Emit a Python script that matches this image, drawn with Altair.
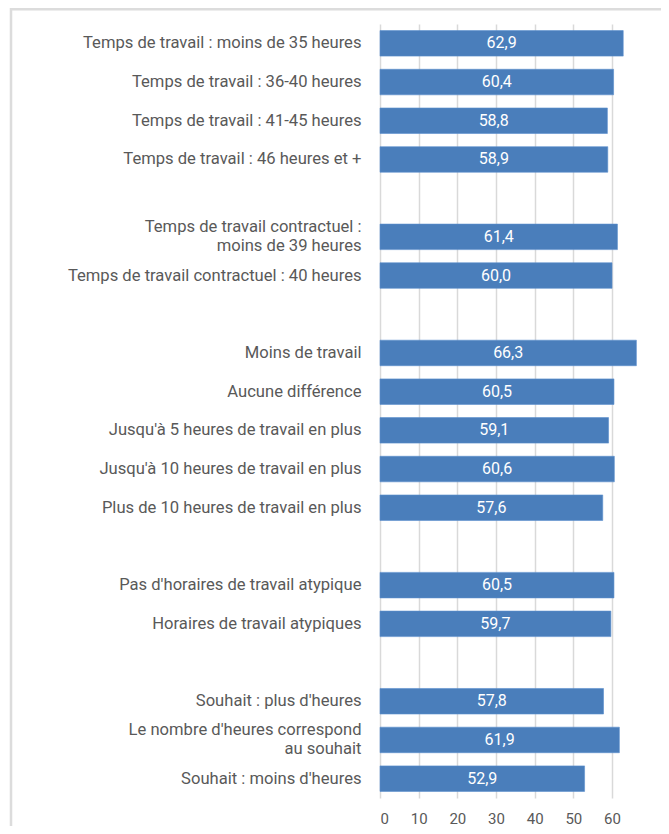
import altair as alt
import pandas as pd

# Row order (top to bottom); blank keys are the gaps between groups
rows = [
    "Temps de travail : moins de 35 heures",
    "Temps de travail : 36-40 heures",
    "Temps de travail : 41-45 heures",
    "Temps de travail : 46 heures et +",
    " ",
    "Temps de travail contractuel :\nmoins de 39 heures",
    "Temps de travail contractuel : 40 heures",
    "  ",
    "Moins de travail",
    "Aucune différence",
    "Jusqu'à 5 heures de travail en plus",
    "Jusqu'à 10 heures de travail en plus",
    "Plus de 10 heures de travail en plus",
    "   ",
    "Pas d'horaires de travail atypique",
    "Horaires de travail atypiques",
    "    ",
    "Souhait : plus d'heures",
    "Le nombre d'heures correspond\nau souhait",
    "Souhait : moins d'heures",
]

categories = [r for r in rows if r.strip()]
values = [62.9, 60.4, 58.8, 58.9, 61.4, 60.0, 66.3, 60.5, 59.1, 60.6, 57.6,
          60.5, 59.7, 57.8, 61.9, 52.9]
x_ticks = [0, 10, 20, 30, 40, 50, 60]

df = pd.DataFrame({"cat": categories, "v": values})

FONT = "Roboto"
GRAY = "#595959"
BLUE = "#4A7EBB"
PLOT_W = 281
PLOT_H = 774
PAD_B = 28

y_enc = alt.Y(
    "cat:N",
    sort=rows,
    scale=alt.Scale(domain=rows, paddingInner=0.34, paddingOuter=0.17),
    axis=alt.Axis(
        title=None, domain=False, ticks=False, grid=False,
        labelExpr="split(datum.value, '\\n')",
        labelFont=FONT, labelFontSize=16.6, labelColor=GRAY,
        labelPadding=19, labelLimit=400, labelLineHeight=19,
        labelOffset={"condition": {"test": "indexof(datum.value, '\\n') >= 0", "value": -9.5}, "value": 0},
    ),
)
x_scale = alt.Scale(domain=[0, PLOT_W / 3.867], nice=False, zero=True)

bars = alt.Chart(df).mark_bar(color=BLUE, stroke="#5b8fcc", strokeWidth=0.6).encode(
    x=alt.X(
        "v:Q", scale=x_scale,
        axis=alt.Axis(
            title=None, values=x_ticks, grid=True, gridColor="#d9d9d9",
            gridWidth=1.5, domain=False, ticks=False,
            labelFont=FONT, labelFontSize=15, labelColor=GRAY, labelPadding=13,
        ),
    ),
    y=y_enc,
)

text = alt.Chart(df).transform_calculate(
    half="datum.v / 2",
    lab="replace(format(datum.v, '.1f'), '.', ',')",
).mark_text(color="white", font=FONT, fontSize=16, baseline="middle", align="center").encode(
    x=alt.X("half:Q", scale=x_scale),
    y=y_enc,
    text="lab:N",
)

one = pd.DataFrame({"a": [0]})
frame_left = alt.Chart(one).mark_rule(color="#dcdcdc", strokeWidth=2.5).encode(
    x=alt.value(-369), y=alt.value(-16), y2=alt.value(PLOT_H + PAD_B)
)
frame_top = alt.Chart(one).mark_rule(color="#dcdcdc", strokeWidth=2.5).encode(
    x=alt.value(-370), x2=alt.value(PLOT_W), y=alt.value(-14.7)
)

chart = alt.layer(bars, text, frame_left, frame_top).properties(
    width=PLOT_W,
    height=PLOT_H,
    autosize=alt.AutoSizeParams(type="none"),
    padding={"left": 372, "top": 16, "right": 0, "bottom": PAD_B},
    background="white",
).configure_view(stroke=None)

chart.save("out.html", embed_options={"renderer": "svg", "actions": False})
